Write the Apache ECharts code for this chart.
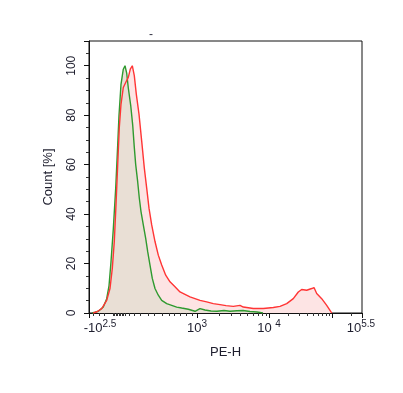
<!DOCTYPE html>
<html><head><meta charset="utf-8">
<script src="https://cdn.jsdelivr.net/npm/echarts@6/dist/echarts.min.js"></script>
<style>html,body{margin:0;padding:0;background:#fff}#c{width:403px;height:393px}</style>
</head><body><div id="c"></div>
<script>
// x in display channels of the biexponential PE-H scale (0 = left edge, 273 = 10^5.5)
const greenCh  = [3,6,9.3,14.3,17.7,20,22,24.3,26.7,28.7,30,32,34.3,36,37.7,39.3,41.7,43.7,45.3,46.7,48.7,50.3,52,54.3,56.7,58.7,61,63.3,66,69.3,72.7,77.7,82.7,87.7,92.7,99.3,106,111,116,122,128,135,141,148,154,161,168,174];
const greenPct = [0,0.3,0.7,2.4,5.8,11,20.7,34,50.5,68,80,92.5,98.6,100,97,91,84,76,67,60,53,46.5,41,35.6,30.2,24.8,19.4,14,9.9,7.2,5.1,3.8,3.1,2.4,2,1.5,0.7,1.8,1.2,0.8,0.7,1.0,0.7,0.9,1.0,0.6,0.4,0];
const redCh  = [4,8,12.7,17.7,21,23.3,25.3,27,28.7,30.3,32,34.3,36.7,39.3,41.3,43.3,45.3,47.3,50,52.7,55.3,57.7,60,62.7,66,69.3,72.7,76.7,81,86,91,96,101,106,111,117.7,124.3,131,137,144.3,151,154.3,164.3,174.3,184.3,191,197.7,204.3,209.3,212.7,217.7,222.7,225,227.7,232.7,237.7,241,242.7];
const redPct = [0,0.5,1.8,5.1,9.9,18,28.9,43.8,60,75,84.4,91.2,93.2,95.3,98.6,100,96,88.5,80.4,69.5,58.7,50.5,42.4,35.6,28.9,23.4,19.4,15.3,12.6,10.6,8.5,7.5,6.5,5.8,5.1,4.5,3.8,3.4,3.0,2.7,3.1,2.4,1.8,1.8,2.2,2.7,3.8,5.8,8.5,9.5,9.2,9.9,10.3,7.9,5.8,3.1,1.1,0];
const xLabelPos  = [11,108,180,272];
const xLabelText = ['-10{s|2.5}','10{s|3}','10 {s|4}','10{s|5.5}'];
const xMajorTicks = [0,108,180,243,273];
const xMinorTicks = [4,10,15,24,25.5,27,28.5,30,31.5,33,34.5,36,40,45,51,59,65,73,80,85,91,97,103,130,142,151,158,164,169,173,177,199,210,218,224,229,233,237,240,262];

const pairs = (xs, ys) => xs.map((x, i) => [x, ys[i]]);
const red = pairs(redCh, redPct), green = pairs(greenCh, greenPct);
const font = 'Liberation Sans, Arial, sans-serif';
const txt = '#1e1e2e';

const chart = echarts.init(document.getElementById('c'));
chart.setOption({
  animation: false,
  title: { text: '-', left: 144, top: 24, textStyle: { fontSize: 12, color: '#334', fontFamily: font, fontWeight: 'normal' } },
  grid: { left: 89, top: 41, right: 41, bottom: 80, show: true, borderColor: '#111', borderWidth: 1 },
  xAxis: [{
    type: 'value', min: 0, max: 273,
    name: 'PE-H', nameLocation: 'middle', nameGap: 33,
    nameTextStyle: { fontSize: 13, color: txt, fontFamily: font },
    axisLine: { lineStyle: { color: '#111' } },
    splitLine: { show: false },
    axisTick: { customValues: xMajorTicks, length: 5, lineStyle: { color: '#111' } },
    axisLabel: {
      customValues: xLabelPos, margin: 6, fontSize: 13, color: txt, fontFamily: font,
      formatter: v => xLabelText[xLabelPos.indexOf(v)] || '',
      rich: { s: { fontSize: 10, color: txt, fontFamily: font, padding: [0, 0, 8, 0] } }
    }
  }, {
    type: 'value', min: 0, max: 273, position: 'bottom',
    axisLine: { show: false }, splitLine: { show: false },
    axisLabel: { show: false },
    axisTick: { customValues: xMinorTicks, length: 3, lineStyle: { color: '#333' } }
  }],
  yAxis: {
    type: 'value', min: 0, max: 110, interval: 20,
    name: 'Count [%]', nameLocation: 'middle', nameGap: 34, nameRotate: 90,
    nameTextStyle: { fontSize: 13, color: txt, fontFamily: font },
    axisLine: { show: true, lineStyle: { color: '#111' } },
    splitLine: { show: false },
    axisTick: { show: true, length: 5, lineStyle: { color: '#111' } },
    minorTick: { show: true, splitNumber: 4, length: 3, lineStyle: { color: '#333' } },
    axisLabel: { rotate: 90, margin: 11, fontSize: 12, color: txt, fontFamily: font, showMaxLabel: false,
      formatter: v => (v <= 100 ? String(v) : '') }
  },
  series: [
    { type: 'line', data: red, symbol: 'none', z: 1, lineStyle: { width: 0 }, areaStyle: { color: '#fde4e4', opacity: 1 } },
    { type: 'line', data: green, symbol: 'none', z: 2, lineStyle: { width: 0 }, areaStyle: { color: '#e9dfd5', opacity: 1 } },
    { type: 'line', data: green, symbol: 'none', z: 3, lineStyle: { width: 1.4, color: '#2f9a2f' } },
    { type: 'line', data: red, symbol: 'none', z: 4, lineStyle: { width: 1.4, color: '#ff3535' } }
  ]
});
</script></body></html>
